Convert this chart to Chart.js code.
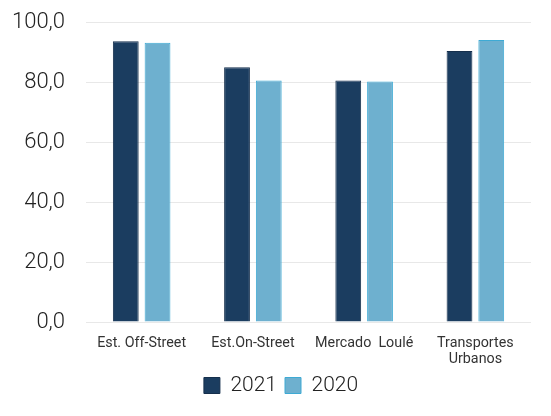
<!DOCTYPE html>
<html><head><meta charset="utf-8">
<script src="https://cdn.jsdelivr.net/npm/chart.js@4/dist/chart.umd.min.js"></script>
<style>html,body{margin:0;padding:0;background:#fff}#wrap{width:551px;height:416px}</style>
</head><body><div id="wrap"><canvas id="c" width="551" height="416"></canvas></div>
<script>
const categories = ["Est. Off-Street", "Est.On-Street", "Mercado  Loulé", ["Transportes", "Urbanos"]];
const series2021 = [93.6, 84.9, 80.5, 90.3];
const series2020 = [93.1, 80.5, 80.2, 94.0];
const seriesNames = ["2021", "2020"];
const yTicks = [0, 20, 40, 60, 80, 100];

const shiftLegend = {
  id: 'shiftLegend',
  afterLayout(chart) {
    const lg = chart.legend;
    if (lg) { lg.left += 20; lg.right += 20; }
  }
};

new Chart(document.getElementById('c'), {
  type: 'bar',
  data: {
    labels: categories,
    datasets: [
      {label: seriesNames[0], data: series2021, backgroundColor: '#1b3d60', borderColor: '#152f4c', borderWidth: 1, categoryPercentage: 0.571, barPercentage: 0.8125},
      {label: seriesNames[1], data: series2020, backgroundColor: '#6eb0cf', borderColor: '#3eaad4', borderWidth: 1, categoryPercentage: 0.571, barPercentage: 0.8125}
    ]
  },
  plugins: [shiftLegend],
  options: {
    responsive: false,
    animation: false,
    layout: {padding: {left: -9, right: 20, top: 22, bottom: 10}},
    plugins: {
      tooltip: {enabled: false},
      legend: {
        position: 'bottom',
        labels: {font: {family: 'Roboto', size: 21, weight: '300'}, color: '#222', boxWidth: 16, boxHeight: 16, padding: 8},
      }
    },
    scales: {
      x: {
        grid: {display: false},
        border: {display: false},
        afterFit: (ax) => { ax.height -= 6; },
        ticks: {font: {family: 'Roboto', size: 14.3, lineHeight: 1.15}, color: '#333', maxRotation: 0, autoSkip: false, padding: 5}
      },
      y: {
        min: 0, max: 100,
        afterBuildTicks: (ax) => { ax.ticks = yTicks.map(v => ({value: v})); },
        afterFit: (ax) => { ax.paddingTop = 0; ax.paddingBottom = 0; },
        grid: {color: '#e8e8e8', drawTicks: false},
        border: {display: false},
        ticks: {font: {family: 'Roboto', size: 22, weight: '300'}, color: '#222', padding: 21,
          callback: (v) => v.toFixed(1).replace('.', ',')}
      }
    }
  }
});
</script></body></html>
